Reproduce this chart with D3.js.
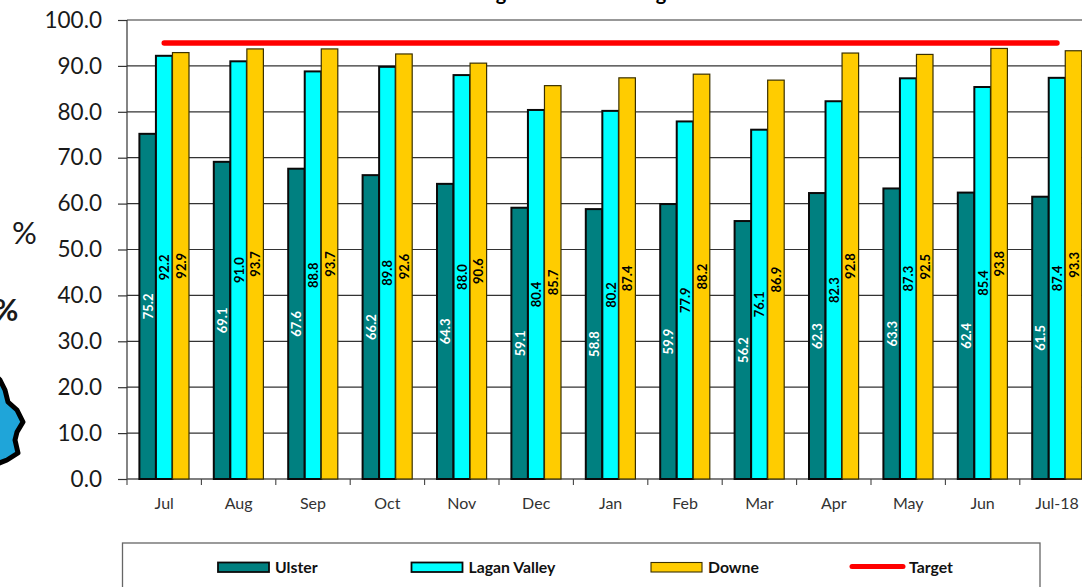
<!DOCTYPE html>
<html><head><meta charset="utf-8">
<script src="https://cdn.jsdelivr.net/npm/d3@7/dist/d3.min.js"></script>
<style>html,body{margin:0;padding:0;background:#fff;overflow:hidden}svg{display:block}text{font-family:Lato,"Open Sans",sans-serif}</style>
</head><body><svg id="c" width="1082" height="587"></svg>
<script>
const months = ["Jul","Aug","Sep","Oct","Nov","Dec","Jan","Feb","Mar","Apr","May","Jun","Jul-18"];
const seriesNames = ["Ulster","Lagan Valley","Downe"];
const ulster = [75.2,69.1,67.6,66.2,64.3,59.1,58.8,59.9,56.2,62.3,63.3,62.4,61.5];
const lagan  = [92.2,91.0,88.8,89.8,88.0,80.4,80.2,77.9,76.1,82.3,87.3,85.4,87.4];
const downe  = [92.9,93.7,93.7,92.6,90.6,85.7,87.4,88.2,86.9,92.8,92.5,93.8,93.3];
const target = [95,95,95,95,95,95,95,95,95,95,95,95,95];
const yTicks = [0,10,20,30,40,50,60,70,80,90,100];
const fills = ["#008080","#00FFFF","#FFCC00"];
const strokes = ["#0a0a0a","#0a0a0a","#3a3000"];
const strokeW = [2,2,1.2];
const labelFill = ["#fff","#000","#000"];
const values = [ulster,lagan,downe];
const titleFragments = [["g",501],["g",661]];
const mapOutline = [[-8,372],[0,380],[5,390],[8,402],[17,410],[23,422],[17,432],[15,440],[18,453],[7,460],[-8,466]];

const svg = d3.select("#c");
const x0 = d3.scaleBand().domain(months).range([127,127+13*74.4]);
const x1 = d3.scaleBand().domain(seriesNames).range([0,x0.bandwidth()]).paddingInner(0).paddingOuter(.75);
const y = d3.scaleLinear().domain([0,100]).range([479,20]);

// clipped off-chart fragments
svg.selectAll(".tf").data(titleFragments).join("text").attr("class","tf")
  .attr("x",d=>d[1]).attr("y",0).attr("text-anchor","middle")
  .attr("font-size",20).attr("font-weight",700).attr("fill","#000").text(d=>d[0]);
svg.append("text").attr("x",24.5).attr("y",244).attr("text-anchor","middle").attr("font-size",31).attr("fill","#1a1a1a").text("%");
svg.append("text").attr("x",6).attr("y",321).attr("text-anchor","middle").attr("font-size",30).attr("font-weight",700).attr("fill","#1a1a1a").text("%");
svg.append("path").attr("d",d3.line()(mapOutline)+"Z").attr("fill","#1fa5d9").attr("stroke","#000").attr("stroke-width",5).attr("stroke-linejoin","round");

// grid + y axis
const yAxis = d3.axisLeft(y).tickValues(yTicks).tickFormat(d3.format(".1f")).tickSize(9).tickPadding(16);
const gy = svg.append("g").attr("transform","translate(127,0)").call(yAxis);
gy.select(".domain").attr("stroke","#666").attr("stroke-width",1.6).attr("d","M0,20V479");
gy.selectAll(".tick line").attr("stroke","#333").attr("stroke-width",1.2);
gy.selectAll(".tick text").attr("font-size",22.5).attr("fill","#1a1a1a").style("font-family","Lato");
svg.append("g").selectAll("line").data(yTicks).join("line")
  .attr("x1",127).attr("x2",1082).attr("y1",d=>y(d)).attr("y2",d=>y(d))
  .attr("stroke",d=>d===0?"#555":"#333").attr("stroke-width",d=>d===0?1.6:1.2);

// x axis
const xAxis = d3.axisBottom(x0).tickSize(0).tickPadding(19);
const gx = svg.append("g").attr("transform","translate(0,479)").call(xAxis);
gx.select(".domain").remove();
gx.selectAll(".tick text").attr("font-size",16).attr("fill","#333").style("font-family","Lato");
svg.append("g").selectAll("line").data(d3.range(months.length+1)).join("line")
  .attr("x1",i=>x0.range()[0]+i*x0.step()).attr("x2",i=>x0.range()[0]+i*x0.step())
  .attr("y1",479).attr("y2",485).attr("stroke","#444").attr("stroke-width",1.1);

// bars
seriesNames.forEach((s,si)=>{
  const g = svg.append("g");
  g.selectAll("rect").data(values[si]).join("rect")
    .attr("x",(d,i)=>x0(months[i])+x1(s)).attr("y",d=>y(d))
    .attr("width",x1.bandwidth()).attr("height",d=>y(0)-y(d))
    .attr("fill",fills[si]).attr("stroke",strokes[si]).attr("stroke-width",strokeW[si]);
});
// value labels
seriesNames.forEach((s,si)=>{
  svg.append("g").selectAll("text").data(values[si]).join("text")
    .attr("transform",(d,i)=>`translate(${x0(months[i])+x1(s)+x1.bandwidth()/2},${(y(d)+y(0))/2}) rotate(-90)`)
    .attr("text-anchor","middle").attr("dominant-baseline","central")
    .attr("font-size",13).attr("font-weight",700).attr("fill",labelFill[si]).text(d=>d.toFixed(1));
});
// target
const targetLine = d3.line().x((d,i)=>x0(months[i])+x0.bandwidth()/2).y(d=>y(d));
svg.append("path").attr("d",targetLine(target)).attr("fill","none").attr("stroke","#ff0000").attr("stroke-width",5.4).attr("stroke-linecap","round");

// legend
svg.append("rect").attr("x",122.5).attr("y",543).attr("width",917.5).attr("height",60).attr("fill","none").attr("stroke","#666").attr("stroke-width",1.3);
const legendX = d3.scaleOrdinal().domain(["Ulster","Lagan Valley","Downe","Target"]).range([218,411.5,651,850]);
seriesNames.forEach((s,si)=>{
  svg.append("rect").attr("x",legendX(s)).attr("y",562.5).attr("width",51).attr("height",9.5)
    .attr("fill",fills[si]).attr("stroke",strokes[si]).attr("stroke-width",si<2?1.8:1.1);
  svg.append("text").attr("x",legendX(s)+57).attr("y",572.5).attr("font-size",15.8).attr("font-weight",700).attr("fill","#111").text(s);
});
svg.append("line").attr("x1",legendX("Target")+2).attr("x2",legendX("Target")+53).attr("y1",566.5).attr("y2",566.5)
  .attr("stroke","#ff0000").attr("stroke-width",5).attr("stroke-linecap","round");
svg.append("text").attr("x",legendX("Target")+59).attr("y",572.5).attr("font-size",15.8).attr("font-weight",700).attr("fill","#111").text("Target");
</script></body></html>
